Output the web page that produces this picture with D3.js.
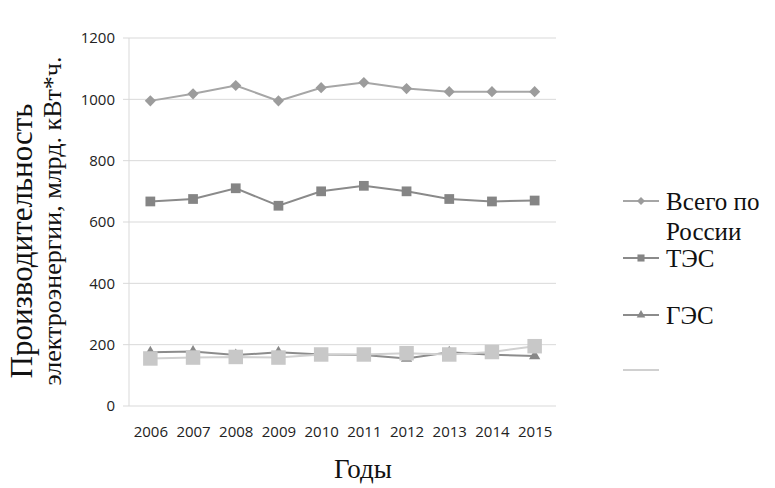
<!DOCTYPE html>
<html>
<head>
<meta charset="utf-8">
<script src="https://cdn.jsdelivr.net/npm/d3@7"></script>
<style>
  body { margin: 0; background: #fff; }
  .tick text { font-family: "Open Sans", sans-serif; font-size: 15px; fill: #222; }
  .serif { font-family: "Liberation Serif", "Times New Roman", serif; fill: #111; }
</style>
</head>
<body>
<div id="wrapper"></div>
<script>
// data
const years = [2006, 2007, 2008, 2009, 2010, 2011, 2012, 2013, 2014, 2015]
const totalValues = [995, 1018, 1045, 995, 1038, 1055, 1035, 1025, 1025, 1025]
const tesValues = [667, 675, 710, 653, 700, 718, 700, 675, 667, 670]
const gesValues = [175, 178, 166, 175, 168, 166, 155, 175, 167, 163]
const otherValues = [155, 158, 160, 158, 168, 168, 172, 168, 176, 195]
const yTicks = [0, 200, 400, 600, 800, 1000, 1200]
const seriesNames = ["Всего по России", "ТЭС", "ГЭС", ""]

const width = 775
const height = 488
const margin = { top: 38, right: 219, bottom: 82, left: 129 }
const boundedWidth = width - margin.left - margin.right
const boundedHeight = height - margin.top - margin.bottom

const svg = d3.select("#wrapper").append("svg")
  .attr("width", width)
  .attr("height", height)

const bounds = svg.append("g")
  .attr("transform", `translate(${margin.left},${margin.top})`)

const xScale = d3.scalePoint()
  .domain(years)
  .range([0, boundedWidth])
  .padding(0.5)

const yScale = d3.scaleLinear()
  .domain([0, 1200])
  .range([boundedHeight, 0])

// gridlines
bounds.append("g")
  .selectAll("line")
  .data(yTicks)
  .enter().append("line")
    .attr("x1", -6)
    .attr("x2", boundedWidth)
    .attr("y1", d => yScale(d))
    .attr("y2", d => yScale(d))
    .attr("stroke", "#d9d9d9")
    .attr("stroke-width", 1)

bounds.append("line")
  .attr("x1", 0).attr("x2", 0)
  .attr("y1", 0).attr("y2", boundedHeight)
  .attr("stroke", "#d9d9d9")

// axes
const yAxis = bounds.append("g")
  .call(d3.axisLeft(yScale).tickValues(yTicks).tickFormat(d3.format("d")).tickSize(0).tickPadding(14))
yAxis.select(".domain").remove()

const xAxis = bounds.append("g")
  .attr("transform", `translate(0,${boundedHeight})`)
  .call(d3.axisBottom(xScale).tickSize(0).tickPadding(20))
xAxis.select(".domain").remove()

// series (diamond = square turned 45 degrees)
const series = [
  { name: seriesNames[0], values: totalValues, line: "#a6a6a6", fill: "#9c9c9c", symbol: d3.symbolSquare, size: 62, rotate: 45 },
  { name: seriesNames[1], values: tesValues, line: "#8a8a8a", fill: "#858585", symbol: d3.symbolSquare, size: 95, rotate: 0 },
  { name: seriesNames[2], values: gesValues, line: "#8c8c8c", fill: "#888888", symbol: d3.symbolTriangle, size: 55, rotate: 0 },
  { name: seriesNames[3], values: otherValues, line: "#d0d0d0", fill: "#c8c8c8", symbol: d3.symbolSquare, size: 210, rotate: 0 },
]

const lineGenerator = d3.line()
  .x((d, i) => xScale(years[i]))
  .y(d => yScale(d))

series.forEach(s => {
  const g = bounds.append("g")
  g.append("path")
    .attr("d", lineGenerator(s.values))
    .attr("fill", "none")
    .attr("stroke", s.line)
    .attr("stroke-width", 2)
  g.selectAll("path.marker")
    .data(s.values)
    .enter().append("path")
      .attr("class", "marker")
      .attr("d", d3.symbol().type(s.symbol).size(s.size))
      .attr("transform", (d, i) => `translate(${xScale(years[i])},${yScale(d)}) rotate(${s.rotate})`)
      .attr("fill", s.fill)
})

// legend
const legendY = [201, 258, 315, 370]
const legend = svg.append("g")
  .attr("transform", "translate(623,0)")

series.forEach((s, i) => {
  const g = legend.append("g")
    .attr("transform", `translate(0,${legendY[i]})`)
  g.append("line")
    .attr("x1", 0).attr("x2", 36)
    .attr("stroke", s.line)
    .attr("stroke-width", 2)
  if (i < 3) {
    g.append("path")
      .attr("d", d3.symbol().type(s.symbol).size(i == 1 ? 50 : 32))
      .attr("transform", `translate(18,0) rotate(${s.rotate})`)
      .attr("fill", s.fill)
  }
})

const legendText = [
  { text: "Всего по", y: legendY[0] + 9 },
  { text: "России", y: legendY[0] + 39 },
  { text: "ТЭС", y: legendY[1] + 9 },
  { text: "ГЭС", y: legendY[2] + 9 },
]
legend.selectAll("text")
  .data(legendText)
  .enter().append("text")
    .attr("class", "serif")
    .attr("x", 43)
    .attr("y", d => d.y)
    .style("font-size", "25px")
    .text(d => d.text)

// axis titles
svg.append("text").attr("class", "serif")
  .attr("x", 363)
  .attr("y", 478)
  .attr("text-anchor", "middle")
  .style("font-size", "27px")
  .text("Годы")

const yTitle = svg.append("g")
  .attr("transform", "rotate(-90)")
yTitle.append("text").attr("class", "serif")
  .attr("x", -241).attr("y", 32)
  .attr("text-anchor", "middle")
  .style("font-size", "31px")
  .text("Производительность")
yTitle.append("text").attr("class", "serif")
  .attr("x", -221).attr("y", 61)
  .attr("text-anchor", "middle")
  .style("font-size", "26px")
  .text("электроэнергии, млрд. кВт*ч.")
</script>
</body>
</html>
